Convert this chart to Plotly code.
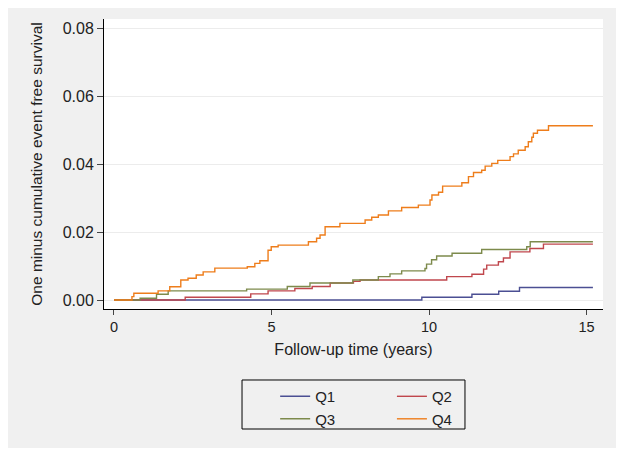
import plotly.graph_objects as go

# step points (time in years, one minus event free survival)
q1_t = [0, 9.77, 11.36, 12.21, 12.87, 15.2]
q1_v = [0, 0.0008, 0.0017, 0.0026, 0.0037, 0.0037]

q2_t = [0, 2.26, 4.34, 4.89, 5.74, 6.29, 6.86, 7.60, 7.81, 10.56, 11.36, 11.73,
        11.83, 12.20, 12.36, 12.57, 13.20, 13.63, 15.2]
q2_v = [0, 0.0008, 0.0018, 0.0027, 0.0034, 0.0040, 0.0050, 0.0055, 0.0059, 0.0069,
        0.0076, 0.0091, 0.0103, 0.0113, 0.0124, 0.0142, 0.0152, 0.0165, 0.0165]

q3_t = [0, 0.83, 1.35, 1.72, 4.21, 5.50, 6.22, 7.58, 8.39, 8.76, 9.13, 9.87, 9.92,
        10.08, 10.24, 10.73, 11.67, 13.10, 13.21, 15.2]
q3_v = [0, 0.0005, 0.0017, 0.0027, 0.0032, 0.0040, 0.0050, 0.0059, 0.0069, 0.0077,
        0.0086, 0.0093, 0.0106, 0.0119, 0.0130, 0.0138, 0.0149, 0.0157, 0.0172, 0.0172]

q4_t = [0, 0.57, 0.63, 1.40, 1.77, 2.12, 2.35, 2.61, 2.83, 3.20, 4.23, 4.47, 4.63,
        4.89, 4.99, 5.21, 6.17, 6.43, 6.54, 6.70, 7.17, 7.97, 8.18, 8.39, 8.71, 9.13,
        9.66, 10.03, 10.09, 10.30, 10.43, 11.04, 11.25, 11.41, 11.67, 11.78, 11.99,
        12.18, 12.57, 12.68, 12.83, 13.05, 13.15, 13.26, 13.31, 13.44, 13.79, 15.2]
q4_v = [0, 0.0010, 0.0020, 0.0027, 0.0039, 0.0059, 0.0064, 0.0074, 0.0083, 0.0094,
        0.0098, 0.0108, 0.0116, 0.0147, 0.0157, 0.0162, 0.0172, 0.0182, 0.0192, 0.0216,
        0.0226, 0.0236, 0.0244, 0.0251, 0.0263, 0.0273, 0.0280, 0.0295, 0.0310, 0.0318,
        0.0336, 0.0346, 0.0364, 0.0376, 0.0383, 0.0395, 0.0403, 0.0412, 0.0423, 0.0431,
        0.0442, 0.0452, 0.0467, 0.0480, 0.0492, 0.0501, 0.0514, 0.0514]

x_ticks = [0, 5, 10, 15]
y_ticks = [0.00, 0.02, 0.04, 0.06, 0.08]

FONT = "Liberation Sans, Arial, sans-serif"
BG = "#f0f0f0"

series = [
    ("Q1", q1_t, q1_v, "#4b4f93", "legend"),
    ("Q2", q2_t, q2_v, "#c0474d", "legend2"),
    ("Q3", q3_t, q3_v, "#7d8a4c", "legend"),
    ("Q4", q4_t, q4_v, "#ee7d1b", "legend2"),
]

fig = go.Figure()
for name, t, v, color, leg in series:
    fig.add_trace(go.Scatter(
        x=t, y=v, name=name, mode="lines",
        line=dict(color=color, width=1.4, shape="hv"),
        legend=leg,
    ))

# page body has an 8px margin, so the figure is a little smaller than the window
fig.update_layout(
    width=608, height=440,
    margin=dict(l=96, r=13, t=11, b=139),
    paper_bgcolor=BG, plot_bgcolor="white",
    font=dict(family=FONT, size=14, color="#222222"),
    showlegend=True,
    legend=dict(
        x=0.343, y=-0.245, xanchor="left", yanchor="top",
        bgcolor="rgba(0,0,0,0)", font=dict(size=15), tracegroupgap=0,
    ),
    legend2=dict(
        x=0.577, y=-0.245, xanchor="left", yanchor="top",
        bgcolor="rgba(0,0,0,0)", font=dict(size=15), tracegroupgap=0,
    ),
    shapes=[dict(
        type="rect", xref="paper", yref="paper",
        x0=0.2766, x1=0.7234, y0=-0.4138, y1=-0.2448,
        line=dict(color="black", width=1), fillcolor="rgba(0,0,0,0)",
    )],
)

fig.update_xaxes(
    range=[-0.317, 15.52], tickvals=x_ticks, ticks="outside", ticklen=5,
    showline=True, linecolor="black", linewidth=1, showgrid=False, zeroline=False,
    tickfont=dict(size=14.5),
    title=dict(text="Follow-up time (years)", font=dict(size=16), standoff=9),
)
fig.update_yaxes(
    range=[-0.00265, 0.0829], tickvals=y_ticks, tickformat=".2f",
    ticks="outside", ticklen=6,
    showline=True, linecolor="black", linewidth=1,
    showgrid=True, gridcolor="#ececec", zeroline=False,
    tickfont=dict(size=16),
    title=dict(text="One minus cumulative event free survival", font=dict(size=15.5), standoff=16),
)

fig.write_html("out.html")
